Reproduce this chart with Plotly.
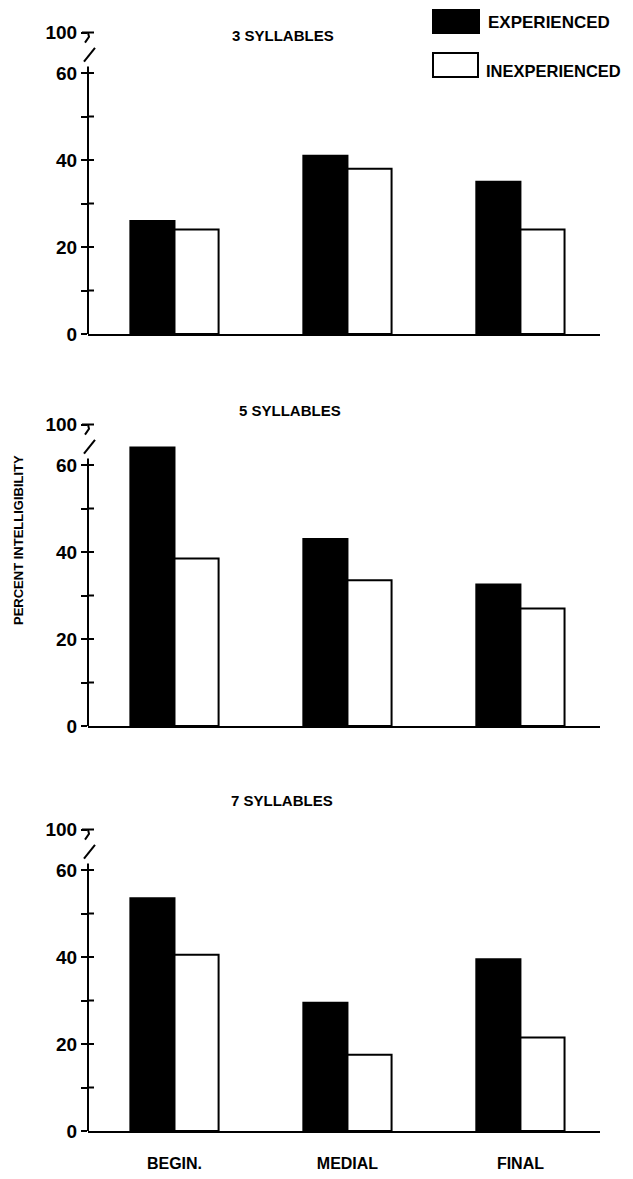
import plotly.graph_objects as go

# ---------------- data ----------------
categories = ["BEGIN.", "MEDIAL", "FINAL"]
series_names = ["EXPERIENCED", "INEXPERIENCED"]
panel_titles = ["3 SYLLABLES", "5 SYLLABLES", "7 SYLLABLES"]

experienced_3 = [26, 41, 35]
inexperienced_3 = [24, 38, 24]
experienced_5 = [64, 43, 32.5]
inexperienced_5 = [38.5, 33.5, 27]
experienced_7 = [53.5, 29.5, 39.5]
inexperienced_7 = [40.5, 17.5, 21.5]

tick_values = [0, 10, 20, 30, 40, 50, 60]
tick_labels = ["0", "", "20", "", "40", "", "60"]
break_label = "100"
y_title = "PERCENT INTELLIGIBILITY"

# ---------------- layout geometry ----------------
OFF = 8                      # page body margin offset
W, H = 633 - OFF, 1179 - OFF
AX = 88                      # page x of vertical axis
L = AX - OFF
PW = 512
R = W - L - PW
TOP = 69.3                   # axis position where the "100" label (after the break) sits
YMAX = 71

FONT = dict(family="Liberation Sans, Arial, sans-serif", color="black", weight="bold")

def py2paper(py_page):
    return 1 - (py_page - OFF) / H

def px2paper(px_page):
    return (px_page - AX) / PW

zero_px = [334, 726, 1131]   # page y of value 0 for each panel
ppu = 4.35
domains = []
for z in zero_px:
    top_px = z - YMAX * ppu
    domains.append([py2paper(z), py2paper(top_px)])

panels = [
    (experienced_3, inexperienced_3),
    (experienced_5, inexperienced_5),
    (experienced_7, inexperienced_7),
]

fig = go.Figure()
shapes = []
annotations = []

for i, (exp, inexp) in enumerate(panels):
    k = "" if i == 0 else str(i + 1)
    xa, ya = "x" + k, "y" + k
    fig.add_trace(go.Bar(x=categories, y=exp, name=series_names[0], xaxis=xa, yaxis=ya,
                         marker=dict(color="black", line=dict(color="black", width=2)),
                         showlegend=False, offsetgroup="e"))
    fig.add_trace(go.Bar(x=categories, y=inexp, name=series_names[1], xaxis=xa, yaxis=ya,
                         marker=dict(color="white", line=dict(color="black", width=2)),
                         showlegend=False, offsetgroup="i"))

    fig.update_layout(**{
        "xaxis" + k: dict(domain=[0, 1], anchor=ya, range=[-0.5, 2.46], type="category",
                          showline=True, linecolor="black", linewidth=2, showgrid=False,
                          zeroline=False, ticks="", showticklabels=(i == 2),
                          ticklabelstandoff=17, tickfont=dict(size=16, **FONT),
                          fixedrange=True),
        "yaxis" + k: dict(domain=domains[i], anchor=xa, range=[0, YMAX], showline=False,
                          showgrid=False, zeroline=False, ticks="outside", ticklen=6,
                          tickwidth=2, tickcolor="black",
                          tickvals=tick_values + [TOP], ticktext=tick_labels + [break_label],
                          tickfont=dict(size=19, **FONT), fixedrange=True),
    })

    xd = "x" + k + " domain"
    px = 1 / PW
    line = dict(color="black", width=2)
    # broken vertical axis
    shapes.append(dict(type="line", xref=xd, yref=ya, x0=0, x1=0, y0=0, y1=61.5, line=line))
    for v in tick_values[1:]:
        shapes.append(dict(type="line", xref=xd, yref=ya, x0=0, x1=6 * px, y0=v, y1=v, line=line))
    # top "T" cap with hook
    shapes.append(dict(type="line", xref=xd, yref=ya, x0=-6 * px, x1=6 * px, y0=TOP, y1=TOP, line=line))
    shapes.append(dict(type="path", xref=xd, yref=ya, line=line,
                       path=f"M 0 {TOP} L {1*px} {TOP-1.0} L {-3*px} {TOP-2.3}"))
    # slash break mark
    shapes.append(dict(type="line", xref=xd, yref=ya, x0=-4 * px, x1=7 * px, y0=62.6, y1=65.8, line=line))

# panel titles
title_pos = [(283, 35), (290, 410), (282, 800)]
for t, (tx, ty) in zip(panel_titles, title_pos):
    annotations.append(dict(text=t, xref="paper", yref="paper", x=px2paper(tx), y=py2paper(ty),
                            showarrow=False, xanchor="center", yanchor="middle",
                            font=dict(size=15, **FONT)))

# custom legend (large swatches)
shapes.append(dict(type="rect", xref="paper", yref="paper",
                   x0=px2paper(433), x1=px2paper(479), y0=py2paper(33), y1=py2paper(10),
                   fillcolor="black", line=dict(color="black", width=2)))
shapes.append(dict(type="rect", xref="paper", yref="paper",
                   x0=px2paper(433), x1=px2paper(478), y0=py2paper(77), y1=py2paper(53),
                   fillcolor="white", line=dict(color="black", width=2)))
annotations.append(dict(text=series_names[0], xref="paper", yref="paper", x=px2paper(486),
                        y=py2paper(23), showarrow=False, xanchor="left", yanchor="middle",
                        font=dict(size=17, **FONT)))
annotations.append(dict(text=series_names[1], xref="paper", yref="paper", x=px2paper(484),
                        y=py2paper(71), showarrow=False, xanchor="left", yanchor="middle",
                        font=dict(size=16.5, **FONT)))

# y-axis title
annotations.append(dict(text=y_title, xref="paper", yref="paper", x=px2paper(18),
                        y=py2paper(540), showarrow=False, textangle=-90,
                        xanchor="center", yanchor="middle", font=dict(size=13, **FONT)))

fig.update_layout(
    width=W, height=H,
    margin=dict(l=L, r=R, t=0, b=0, autoexpand=False),
    paper_bgcolor="white", plot_bgcolor="white",
    barmode="group", bargap=0.49, bargroupgap=0,
    shapes=shapes, annotations=annotations,
    showlegend=False,
)

fig.write_html("out.html", config=dict(displayModeBar=False))
